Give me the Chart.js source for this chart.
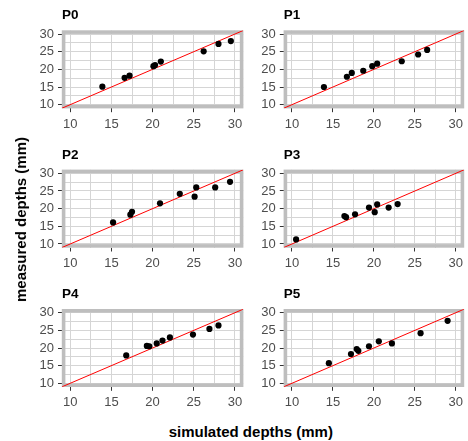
<!DOCTYPE html>
<html><head><meta charset="utf-8">
<script src="https://cdn.jsdelivr.net/npm/chart.js@4/dist/chart.umd.min.js"></script>
<style>
html,body{margin:0;padding:0;background:#fff;}
#wrap{position:relative;width:468px;height:441px;overflow:hidden;font-family:"Liberation Sans",Arial,sans-serif;}
canvas{position:absolute;}
.ttl{position:absolute;font-weight:bold;font-size:15px;color:#000;white-space:nowrap;line-height:15px;}
</style></head><body>
<div id="wrap">
  <canvas id="c0"></canvas><canvas id="c1"></canvas>
  <canvas id="c2"></canvas><canvas id="c3"></canvas>
  <canvas id="c4"></canvas><canvas id="c5"></canvas>
  <div class="ttl" id="xt">simulated depths (mm)</div>
  <div class="ttl" id="yt">measured depths (mm)</div>
</div>
<script>
// ---- data ----
const panelNames = ['P0', 'P1', 'P2', 'P3', 'P4', 'P5'];
const p0Sim  = [13.9, 16.6, 17.2, 20.1, 20.3, 21.0, 26.2, 28.0, 29.5];
const p0Meas = [15.1, 17.6, 18.2, 20.9, 21.2, 22.2, 25.1, 27.2, 28.0];
const p1Sim  = [13.9, 16.7, 17.3, 18.7, 19.8, 20.4, 23.4, 25.4, 26.5];
const p1Meas = [15.0, 17.9, 19.0, 19.6, 20.9, 21.6, 22.3, 24.2, 25.5];
const p2Sim  = [15.2, 17.3, 17.5, 20.9, 23.3, 25.1, 25.3, 27.6, 29.4];
const p2Meas = [16.1, 18.3, 19.1, 21.5, 24.2, 23.4, 26.0, 26.0, 27.6];
const p3Sim  = [10.5, 16.4, 16.6, 17.7, 19.4, 20.1, 20.4, 21.8, 22.9];
const p3Meas = [11.3, 17.9, 17.6, 18.4, 20.3, 19.0, 21.2, 20.3, 21.3];
const p4Sim  = [16.8, 19.3, 19.6, 20.5, 21.2, 22.1, 24.9, 26.9, 28.0];
const p4Meas = [17.9, 20.6, 20.5, 21.3, 22.1, 23.0, 23.8, 25.4, 26.4];
const p5Sim  = [14.5, 17.2, 17.9, 18.1, 19.4, 20.6, 22.2, 25.7, 29.0];
const p5Meas = [15.7, 18.3, 19.7, 19.2, 20.5, 21.9, 21.3, 24.2, 27.7];
const majorTicks = [10, 15, 20, 25, 30];
const minorTicks = [12.5, 17.5, 22.5, 27.5];
const axisRange = [9, 31];
const identityLine = [9, 31];   // y = x reference line

const simSets  = [p0Sim, p1Sim, p2Sim, p3Sim, p4Sim, p5Sim];
const measSets = [p0Meas, p1Meas, p2Meas, p3Meas, p4Meas, p5Meas];

// ---- layout (canvas cells and plot areas, canvas-relative) ----
const cols = [{left: 0, w: 248, l: 62, r: 243.2}, {left: 248, w: 220, l: 35.8, r: 216}];
const rows = [{top: 0, h: 140, t: 30.5, b: 108.2}, {top: 140, h: 140, t: 29.8, b: 107.5}, {top: 280, h: 130, t: 29.2, b: 106.8}];

const FONT = '"Liberation Sans", Arial, sans-serif';
const allTicks = majorTicks.concat(minorTicks).sort((a, b) => a - b);

const panelDeco = {
  id: 'panelDeco',
  beforeDatasetsDraw(chart) {
    const a = chart.chartArea, ctx = chart.ctx;
    ctx.save();
    ctx.strokeStyle = '#bebebe';
    ctx.lineWidth = 3.6;
    ctx.strokeRect(a.left + 1.6, a.top + 1.6, a.right - a.left - 3.2, a.bottom - a.top - 3.2);
    ctx.restore();
  },
  afterDraw(chart) {
    const a = chart.chartArea, ctx = chart.ctx;
    ctx.save();
    ctx.fillStyle = '#000';
    ctx.font = 'bold 13.5px ' + FONT;
    ctx.textAlign = 'left';
    ctx.textBaseline = 'middle';
    ctx.fillText(chart.options.plugins.panelDeco.name, a.left, a.top - 15);
    ctx.restore();
  }
};

function axis(isX, size) {
  return {
    type: 'linear',
    min: axisRange[0], max: axisRange[1],
    afterBuildTicks: (s) => { s.ticks = allTicks.map(v => ({value: v})); },
    afterFit: (s) => { if (isX) s.height = size; else s.width = size; },
    grid: {
      color: '#d5d5d5', lineWidth: 1,
      tickLength: 4, tickWidth: 1,
      tickColor: (c) => (c.tick && majorTicks.includes(c.tick.value)) ? '#333333' : 'rgba(0,0,0,0)'
    },
    border: {display: false},
    ticks: {
      autoSkip: false, maxRotation: 0,
      padding: isX ? 4 : 4,
      color: '#4d4d4d',
      font: {family: FONT, size: 13},
      callback: (v) => majorTicks.includes(v) ? String(v) : ''
    }
  };
}

for (let i = 0; i < 6; i++) {
  const col = cols[i % 2], row = rows[Math.floor(i / 2)];
  const cv = document.getElementById('c' + i);
  cv.width = col.w; cv.height = row.h;
  cv.style.left = col.left + 'px'; cv.style.top = row.top + 'px';
  cv.style.width = col.w + 'px'; cv.style.height = row.h + 'px';
  const pts = simSets[i].map((x, k) => ({x: x, y: measSets[i][k]}));
  new Chart(cv, {
    type: 'scatter',
    data: {
      datasets: [
        {data: pts, pointRadius: 3.1, pointBackgroundColor: '#000', pointBorderWidth: 0, pointHoverRadius: 3.1},
        {type: 'line', data: identityLine.map(v => ({x: v, y: v})), borderColor: '#ff0000', borderWidth: 1, pointRadius: 0, fill: false}
      ]
    },
    options: {
      responsive: false, animation: false, devicePixelRatio: 1,
      events: [],
      layout: {padding: {left: 0, right: col.w - col.r, top: row.t, bottom: 0}},
      scales: {x: axis(true, row.h - row.b), y: axis(false, col.l)},
      plugins: {legend: {display: false}, tooltip: {enabled: false}, title: {display: false}, panelDeco: {name: panelNames[i]}}
    },
    plugins: [panelDeco]
  });
}

const xt = document.getElementById('xt');
xt.style.left = (250.7 - xt.offsetWidth / 2) + 'px';
xt.style.top = (431.7 - 7.5) + 'px';
const yt = document.getElementById('yt');
yt.style.left = (20 - yt.offsetWidth / 2) + 'px';
yt.style.top = (219 - 7.5) + 'px';
yt.style.transform = 'rotate(-90deg)';
</script>
</body></html>
